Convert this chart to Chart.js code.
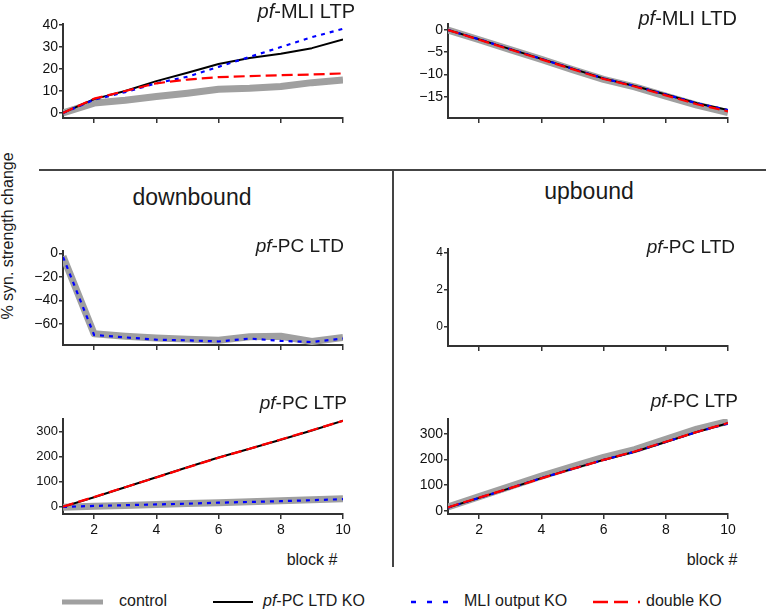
<!DOCTYPE html>
<html>
<head>
<meta charset="utf-8">
<script src="https://cdn.jsdelivr.net/npm/chart.js@4"></script>
<style>
  body { margin: 0; background: #fff; }
  #fig { position: relative; width: 766px; height: 609px; overflow: hidden;
         font-family: "Liberation Sans", Arial, sans-serif; color: #1a1a1a; }
  #fig canvas { position: absolute; }
  .t { position: absolute; white-space: nowrap; line-height: 1; }
  .rule { position: absolute; background: #444; }
</style>
</head>
<body>
<div id="fig"></div>
<script>
// ── data ─────────────────────────────────────
const blocks = [1, 2, 3, 4, 5, 6, 7, 8, 9, 10];
const xTickVals = [2, 4, 6, 8, 10];

// pf-MLI LTP (top left)
const mliLtpTicks = [0, 10, 20, 30, 40];
const mliLtpControl = [0, 4.5, 5.8, 7.5, 9, 10.8, 11.2, 12, 13.8, 15];
const mliLtpLtdKO = [0, 6.3, 10, 14.5, 18.3, 22.3, 25, 27, 29.5, 33.5];
const mliLtpMliKO = [0, 6, 9.5, 13.5, 16.5, 21, 25.5, 30, 34.5, 38.3];
const mliLtpDouble = [0, 6.5, 10, 13.5, 15.2, 16.3, 16.8, 17.2, 17.5, 18];

// pf-MLI LTD (top right)
const mliLtdTicks = [-15, -10, -5, 0];
const mliLtdControl = [0, -2.2, -4.4, -6.6, -8.9, -11.1, -12.8, -14.9, -16.9, -18.6];
const mliLtdLtdKO = [0, -2.1, -4.3, -6.5, -8.7, -10.9, -12.6, -14.5, -16.5, -18.0];
const mliLtdMliKO = [0, -2.1, -4.3, -6.5, -8.7, -10.9, -12.6, -14.5, -16.5, -18.0];
const mliLtdDouble = [0, -2.2, -4.4, -6.6, -8.8, -11.0, -12.7, -14.7, -16.7, -18.3];

// downbound pf-PC LTD
const dnLtdTicks = [-60, -40, -20, 0];
const dnLtdControl = [-2.5, -68.5, -70.5, -72, -73, -74, -71, -70.5, -75, -71.5];
const dnLtdMliKO = [-3, -69.5, -71.5, -73.5, -74, -75, -72.5, -74.5, -75.5, -72.5];

// upbound pf-PC LTD (no traces)
const upLtdTicks = [0, 2, 4];

// pf-PC LTP (bottom row)
const ltpTicks = [0, 100, 200, 300];
const dnLtpControl = [-2, 2, 5, 9, 13, 16, 20, 24, 28, 32];
const dnLtpLtdKO = [0, 38, 78, 118, 158, 197, 232, 268, 305, 344];
const dnLtpMliKO = [-1, 3, 6, 9, 12, 16, 19, 22, 26, 30];
const dnLtpDouble = [0, 39, 78, 117, 157, 196, 232, 269, 306, 344];

const upLtpControl = [15, 55, 95, 135, 172, 208, 238, 278, 318, 348];
const upLtpLtdKO = [12, 50, 88, 127, 163, 198, 230, 268, 307, 341];
const upLtpMliKO = [12, 50, 88, 127, 163, 198, 230, 268, 307, 340];
const upLtpDouble = [13, 51, 88, 126, 163, 198, 231, 269, 307, 342];

// ── styles ───────────────────────────────────
const STYLES = {
  control: { borderColor: '#a0a0a0', borderWidth: 7, order: 4 },
  ltdKO:   { borderColor: '#000000', borderWidth: 2, order: 3 },
  mliKO:   { borderColor: '#0000ff', borderWidth: 2.2, borderDash: [4, 5], order: 2 },
  double:  { borderColor: '#ff0000', borderWidth: 2.2, borderDash: [11, 5], order: 1 },
};
const AXIS = '#333';
const Y_W = 45, PAD_T = 12, PAD_R = 16;

const fig = document.getElementById('fig');

function panel(box, yMin, yMax, yTicks, tickSize, xLabels, series) {
  const xH = xLabels ? 32 : 14;
  const cv = document.createElement('canvas');
  cv.width = box.right - box.left + Y_W + PAD_R;
  cv.height = box.bottom - box.top + PAD_T + xH;
  cv.style.left = (box.left - Y_W) + 'px';
  cv.style.top = (box.top - PAD_T) + 'px';
  fig.appendChild(cv);

  const datasets = series.map(([vals, kind]) => Object.assign({
    data: blocks.map((b, i) => ({ x: b, y: vals[i] })),
    pointRadius: 0, tension: 0, fill: false, borderCapStyle: 'butt', borderJoinStyle: 'round',
  }, STYLES[kind]));

  new Chart(cv, {
    type: 'line',
    data: { datasets },
    options: {
      responsive: false, devicePixelRatio: 1, animation: false, events: [],
      layout: { padding: { top: PAD_T, right: PAD_R, left: 0, bottom: 0 } },
      plugins: { legend: { display: false }, tooltip: { enabled: false } },
      scales: {
        x: {
          type: 'linear', min: 1, max: 10,
          afterFit: s => { s.height = xH; },
          afterBuildTicks: s => { s.ticks = xTickVals.map(v => ({ value: v })); },
          border: { display: true, color: AXIS, width: 2 },
          grid: { drawOnChartArea: false, drawTicks: true, tickLength: 5, color: AXIS, lineWidth: 1.5 },
          ticks: { display: xLabels, color: '#111', padding: 3, maxRotation: 0,
                   font: { family: 'Liberation Sans', size: 14 } },
        },
        y: {
          type: 'linear', min: yMin, max: yMax,
          afterFit: s => { s.width = Y_W; },
          afterBuildTicks: s => { s.ticks = yTicks.map(v => ({ value: v })); },
          border: { display: true, color: AXIS, width: 2 },
          grid: { drawOnChartArea: false, drawTicks: true, tickLength: 4, color: AXIS, lineWidth: 1.5 },
          ticks: { color: '#111', padding: 1, font: { family: 'Liberation Sans', size: tickSize },
                   callback: v => String(v).replace('-', '\u2212') },
        },
      },
    },
  });
}

// text placed by baseline (line-height 1 → baseline ≈ 0.8465em below top)
function text(html, x, base, size, align, extra) {
  const d = document.createElement('div');
  d.className = 't';
  d.style.fontSize = size + 'px';
  d.style.left = x + 'px';
  d.style.top = (base - 0.8465 * size) + 'px';
  if (align === 'right') d.style.transform = 'translateX(-100%)';
  if (align === 'center') d.style.transform = 'translateX(-50%)';
  if (extra) Object.assign(d.style, extra);
  d.innerHTML = html;
  fig.appendChild(d);
}

function rule(l, t, w, h) {
  const d = document.createElement('div');
  d.className = 'rule';
  Object.assign(d.style, { left: l + 'px', top: t + 'px', width: w + 'px', height: h + 'px' });
  fig.appendChild(d);
}

// ── panels ───────────────────────────────────
panel({ left: 63, right: 343, top: 24, bottom: 118 }, -2.3, 40.5, mliLtpTicks, 14, false,
  [[mliLtpControl, 'control'], [mliLtpLtdKO, 'ltdKO'], [mliLtpMliKO, 'mliKO'], [mliLtpDouble, 'double']]);
panel({ left: 448, right: 728, top: 24, bottom: 118 }, -19.8, 1.35, mliLtdTicks, 14, false,
  [[mliLtdControl, 'control'], [mliLtdLtdKO, 'ltdKO'], [mliLtdMliKO, 'mliKO'], [mliLtdDouble, 'double']]);
panel({ left: 63, right: 343, top: 251, bottom: 345 }, -78, 2, dnLtdTicks, 14, false,
  [[dnLtdControl, 'control'], [dnLtdMliKO, 'mliKO']]);
panel({ left: 448, right: 728, top: 249, bottom: 346 }, -1.05, 4.22, upLtdTicks, 12, false, []);
panel({ left: 63, right: 343, top: 419, bottom: 514 }, -29.3, 351, ltpTicks, 13, true,
  [[dnLtpControl, 'control'], [dnLtpLtdKO, 'ltdKO'], [dnLtpMliKO, 'mliKO'], [dnLtpDouble, 'double']]);
panel({ left: 448, right: 728, top: 419, bottom: 514 }, -12.9, 357.5, ltpTicks, 14, true,
  [[upLtpControl, 'control'], [upLtpLtdKO, 'ltdKO'], [upLtpMliKO, 'mliKO'], [upLtpDouble, 'double']]);

// ── labels ───────────────────────────────────
text('<i>pf</i>-MLI LTP', 355, 17.5, 20, 'right');
text('<i>pf</i>-MLI LTD', 737, 25, 20, 'right');
text('<i>pf</i>-PC LTD', 344, 252.5, 19, 'right');
text('<i>pf</i>-PC LTD', 735, 253.5, 19, 'right');
text('<i>pf</i>-PC LTP', 347, 409, 19, 'right');
text('<i>pf</i>-PC LTP', 738, 407.5, 19, 'right');

text('downbound', 192, 205, 23, 'center');
text('upbound', 589, 199, 23, 'center');
text('block #', 312, 566, 16, 'center');
text('block #', 712, 566, 16, 'center');

const yl = document.createElement('div');
yl.className = 't';
Object.assign(yl.style, { fontSize: '16px', left: '8px', top: '236px',
  transform: 'translate(-50%, -50%) rotate(-90deg)' });
yl.textContent = '% syn. strength change';
fig.appendChild(yl);

rule(39, 169, 727, 2);
rule(392, 170, 2, 397);

// ── legend ───────────────────────────────────
const LEG_Y = 602, LEG_BASE = 607;
function swatch(x1, x2, color, width, dash) {
  const ns = 'http://www.w3.org/2000/svg';
  const svg = document.createElementNS(ns, 'svg');
  svg.setAttribute('width', x2 - x1);
  svg.setAttribute('height', 10);
  svg.style.position = 'absolute';
  svg.style.left = x1 + 'px';
  svg.style.top = (LEG_Y - 5) + 'px';
  const ln = document.createElementNS(ns, 'line');
  ln.setAttribute('x1', 0); ln.setAttribute('x2', x2 - x1);
  ln.setAttribute('y1', 5); ln.setAttribute('y2', 5);
  ln.setAttribute('stroke', color);
  ln.setAttribute('stroke-width', width);
  if (dash) ln.setAttribute('stroke-dasharray', dash);
  svg.appendChild(ln);
  fig.appendChild(svg);
}
swatch(62, 103, '#a0a0a0', 5);
text('control', 119, LEG_BASE, 16, 'left');
swatch(213, 253, '#000', 2);
text('<i>pf</i>-PC LTD KO', 263, LEG_BASE, 16, 'left');
swatch(411, 450, '#0000ff', 2.5, '5 11');
text('MLI output KO', 464, LEG_BASE, 16, 'left');
swatch(593, 641, '#ff0000', 2.5, '15 6 14 10 2 20');
text('double KO', 646, LEG_BASE, 16, 'left');
</script>
</body>
</html>
